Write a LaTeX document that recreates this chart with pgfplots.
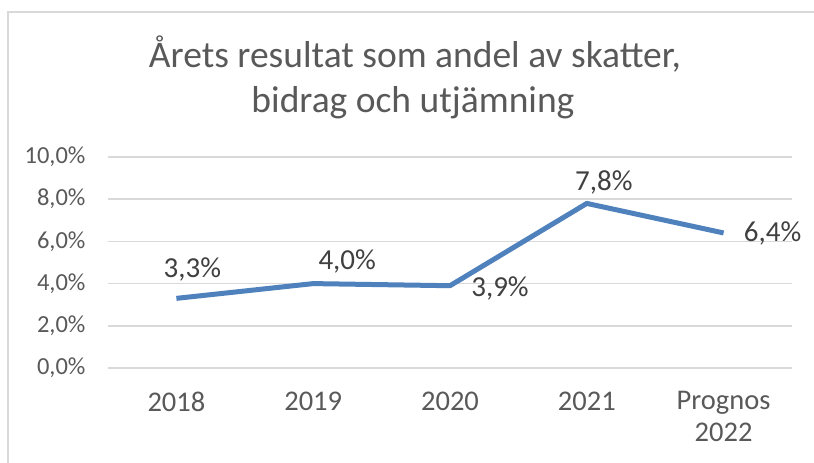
\documentclass[border=0pt]{standalone}
\usepackage{fontspec}
\setmainfont{Carlito}
\usepackage{pgfplots}
\usepackage{pgfplotstable}
\pgfplotsset{compat=1.18}
\definecolor{gridc}{HTML}{D9D9D9}
\definecolor{tickc}{HTML}{595959}
\definecolor{labc}{HTML}{404040}
\definecolor{linec}{HTML}{4F81BD}
\pgfplotstableread{
x y dx dy
0 3.3 16 -29
1 4.0 34 -22
2 3.9 50 3
3 7.8 17 -21
4 6.4 49 1
}\datatable
\begin{document}
\begin{tikzpicture}[x=1pt,y=1pt]
\useasboundingbox (0,0) rectangle (814,463);
\draw[gridc,line width=1.5pt] (8,-5) -- (8,451) -- (820,451);
\node[anchor=base,text=tickc,font=\fontsize{37.5}{45}\selectfont] at (415,395) {Årets resultat som andel av skatter,};
\node[anchor=base,text=tickc,font=\fontsize{37.5}{45}\selectfont] at (413,350) {bidrag och utjämning};
\begin{axis}[
  at={(108pt,95pt)}, anchor=south west,
  scale only axis, width=684pt, height=211pt,
  xmin=-0.5, xmax=4.5, ymin=0, ymax=10,
  xtick={0,1,2,3,4},
  xticklabels={2018,2019,2020,2021,{Prognos\\2022}},
  x tick label style={font=\fontsize{28.5}{32}\selectfont, text=tickc, align=center, anchor=north, yshift=-20pt},
  ytick={0,2,4,6,8,10},
  yticklabel={\pgfmathprintnumber[fixed,fixed zerofill,precision=1,use comma]{\tick}\%},
  y tick label style={font=\fontsize{24.5}{28}\selectfont, text=tickc, anchor=east, xshift=-19pt},
  /pgf/number format/assume math mode=true,
  axis line style={draw=none},
  tick style={draw=none},
  ymajorgrids,
  major grid style={gridc, line width=1.5pt},
  clip=false,
]
\addplot[linec, line width=5pt, line join=round, mark=none,
  visualization depends on={\thisrow{dx}\as\dx},
  visualization depends on={\thisrow{dy}\as\dy},
  nodes near coords={\pgfmathprintnumber[fixed,fixed zerofill,precision=1,use comma]{\pgfplotspointmeta}\%},
  nodes near coords style={anchor=center, xshift=\dx pt, yshift=-\dy pt, text=labc, font=\fontsize{29}{34}\selectfont},
  point meta=explicit,
] table[x=x, y=y, meta=y] {\datatable};
\end{axis}
\end{tikzpicture}
\end{document}
